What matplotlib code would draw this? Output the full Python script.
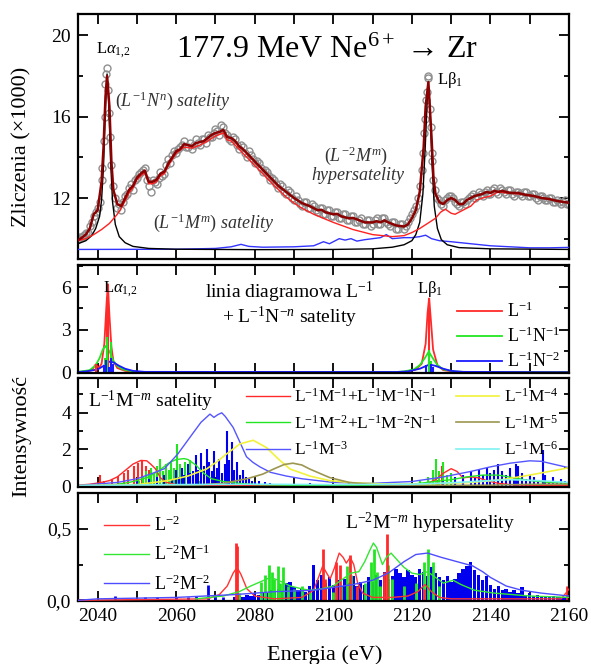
import numpy as np
import matplotlib
matplotlib.use('Agg')
import matplotlib.pyplot as plt
from matplotlib.ticker import MultipleLocator, FuncFormatter

plt.rcParams['font.family'] = ['Liberation Serif', 'DejaVu Serif']
plt.rcParams['mathtext.fontset'] = 'custom'
plt.rcParams['mathtext.rm'] = 'Liberation Serif'
plt.rcParams['mathtext.it'] = 'Liberation Serif:italic'
plt.rcParams['mathtext.bf'] = 'Liberation Serif:bold'

# ---------------- panel 1: measured spectrum (counts / 1000) ----------------
# integer energies 2035..2160
counts_int = [10.0, 10.1, 10.3, 10.6, 11.1, 11.5, 12.9, 17.6, 16.2, 12.6,
              11.5, 11.4, 12.1, 12.5, 12.4, 13.0, 13.3, 13.5, 12.6, 12.9,
              12.7, 13.3, 13.2, 13.9, 14.1, 14.2, 14.5, 14.8, 14.5, 14.4,
              14.9, 14.6, 14.9, 15.1, 15.0, 15.4, 15.1, 15.5, 15.1, 14.8,
              14.9, 14.4, 14.5, 14.0, 14.1, 13.7, 13.7, 13.3, 13.3, 12.9,
              12.9, 12.5, 12.6, 12.2, 12.3, 11.9, 11.9, 11.6, 11.8, 11.5,
              11.6, 11.3, 11.5, 11.2, 11.4, 11.1, 11.3, 11.0, 11.2, 10.9,
              11.1, 10.8, 11.0, 10.7, 10.9, 10.7, 11.0, 10.7, 11.0, 10.7,
              10.8, 10.5, 10.7, 10.5, 10.8, 11.2, 11.6, 12.6, 15.2, 17.9,
              14.2, 12.4, 11.9, 11.6, 12.0, 12.1, 11.8, 11.6, 11.8, 11.9,
              12.1, 12.0, 12.3, 12.1, 12.4, 12.2, 12.5, 12.2, 12.4, 12.2,
              12.4, 12.1, 12.3, 12.1, 12.3, 12.1, 12.2, 11.9, 12.1, 11.9,
              12.0, 11.8, 11.9, 11.7, 11.9, 11.7]
# half-integer energies 2035.5..2159.5
counts_half = [10.1, 10.2, 10.3, 10.8, 11.3, 11.8, 14.8, 18.4, 13.6, 12.0,
               11.7, 11.8, 12.2, 12.7, 12.9, 13.2, 13.4, 12.9, 12.3, 12.8,
               13.0, 13.1, 13.6, 13.7, 14.3, 14.4, 14.6, 14.5, 14.7, 14.6,
               14.7, 14.9, 14.7, 15.0, 15.2, 15.3, 15.6, 15.2, 14.9, 15.0,
               14.6, 14.6, 14.2, 14.3, 13.9, 13.8, 13.5, 13.4, 13.1, 13.0,
               12.7, 12.7, 12.3, 12.4, 12.0, 12.1, 11.7, 11.8, 11.5, 11.7,
               11.4, 11.5, 11.2, 11.4, 11.1, 11.3, 11.0, 11.2, 10.9, 11.1,
               10.8, 10.9, 10.7, 10.9, 10.6, 10.9, 10.7, 11.0, 10.8, 10.6,
               10.8, 10.5, 10.7, 10.6, 11.0, 11.4, 12.0, 13.4, 16.8, 16.4,
               12.9, 12.0, 11.7, 11.9, 12.1, 12.0, 11.7, 11.8, 11.7, 12.0,
               12.2, 12.1, 12.2, 12.3, 12.2, 12.4, 12.3, 12.5, 12.3, 12.4,
               12.2, 12.3, 12.2, 12.3, 12.1, 12.2, 12.0, 12.1, 12.0, 11.9,
               12.0, 11.8, 11.8, 11.8, 11.7]
peak_counts = [(2041.2, 13.5), (2041.8, 16.0), (2042.2, 18.1), (2042.7, 17.3),
               (2043.2, 15.0), (2122.8, 14.2), (2123.3, 15.9), (2123.8, 17.2),
               (2124.2, 18.0), (2124.8, 15.5), (2125.2, 13.8)]

fit_total = [(2035, 9.93), (2036, 10.05), (2037, 10.2), (2038, 10.5), (2039, 11.2), (2040, 11.4),
             (2041, 12.8), (2041.5, 14.5), (2042, 17.0), (2042.4, 18.0), (2043, 16.5), (2043.5, 13.8),
             (2044, 12.4), (2045, 11.7), (2046, 11.6), (2047, 12.0), (2048, 12.4), (2049, 12.6),
             (2050, 13.0), (2051, 13.2), (2052, 13.35), (2053, 12.8), (2054, 12.8), (2055, 12.9),
             (2056, 13.2), (2057, 13.3), (2058, 13.7), (2059, 14.0), (2060, 14.3), (2061, 14.4),
             (2062, 14.65), (2063, 14.6), (2064, 14.55), (2065, 14.7), (2066, 14.75), (2067, 14.8),
             (2068, 14.95), (2069, 15.1), (2070, 15.2), (2071, 15.25), (2072, 15.35), (2073, 15.0),
             (2074, 14.95), (2075, 14.8), (2076, 14.55), (2077, 14.4), (2078, 14.2), (2079, 14.0),
             (2080, 13.8), (2082, 13.4), (2084, 13.0), (2086, 12.6), (2088, 12.3), (2090, 12.0),
             (2092, 11.75), (2094, 11.6), (2096, 11.4), (2097, 11.42), (2098, 11.3), (2100, 11.2),
             (2101, 11.22), (2102, 11.1), (2104, 11.0), (2105, 11.02), (2106, 10.95), (2108, 10.8),
             (2110, 10.8), (2111, 10.86), (2112, 10.8), (2113, 10.9), (2114, 10.8), (2116, 10.65),
             (2118, 10.6), (2119, 10.7), (2120, 11.0), (2121, 11.4), (2122, 12.3), (2123, 14.5),
             (2123.5, 16.5), (2124.2, 17.7), (2125, 15.0), (2125.5, 13.0), (2126, 12.2), (2127, 11.8),
             (2128, 11.7), (2129, 11.9), (2130, 12.0), (2131, 11.9), (2132, 11.7), (2133, 11.7),
             (2134, 11.9), (2136, 12.1), (2138, 12.2), (2139, 12.3), (2140, 12.25), (2141, 12.35),
             (2142, 12.3), (2143, 12.35), (2145, 12.25), (2147, 12.25), (2149, 12.15), (2151, 12.1),
             (2153, 12.0), (2155, 11.95), (2157, 11.85), (2160, 11.77)]
fit_sat = [(2035, 9.9), (2037, 10.0), (2039, 10.2), (2041, 10.45), (2043, 10.75), (2045, 11.2),
           (2046, 11.5), (2047, 11.85), (2048, 12.25), (2049, 12.5), (2050, 12.9), (2051, 13.1),
           (2052, 13.25), (2053, 12.7), (2054, 12.7), (2055, 12.8), (2056, 13.1), (2057, 13.2),
           (2058, 13.6), (2059, 13.9), (2060, 14.2), (2062, 14.5), (2064, 14.45), (2066, 14.6),
           (2068, 14.8), (2070, 15.05), (2072, 15.2), (2073, 14.85), (2074, 14.8), (2076, 14.4),
           (2078, 14.0), (2080, 13.6), (2082, 13.2), (2085, 12.6), (2088, 12.05), (2090, 11.75),
           (2092, 11.5), (2095, 11.2), (2100, 10.8), (2105, 10.45), (2110, 10.2), (2115, 10.1),
           (2118, 10.15), (2120, 10.3), (2122, 10.5), (2124, 10.75), (2126, 11.0), (2127.3, 11.3),
           (2128.5, 11.45), (2130, 11.25), (2131, 11.2), (2133, 11.4), (2135, 11.6), (2136.5, 11.9),
           (2138, 12.0), (2140, 12.1), (2142, 12.3), (2144, 12.25), (2147, 12.2), (2150, 12.15),
           (2153, 12.0), (2156, 11.9), (2160, 11.75)]
fit_diag = [(2035, 9.75), (2037, 9.9), (2038.5, 10.15), (2039.5, 10.5), (2040.5, 11.1), (2041, 11.9),
            (2041.5, 13.6), (2042, 16.5), (2042.4, 18.1), (2042.8, 16.8), (2043.3, 13.8), (2043.8, 11.8),
            (2044.5, 10.7), (2045.5, 10.1), (2047, 9.8), (2049, 9.62), (2053, 9.52), (2060, 9.48),
            (2080, 9.46), (2100, 9.47), (2110, 9.5), (2115, 9.58), (2118, 9.7), (2120, 9.9),
            (2121, 10.2), (2122, 10.8), (2122.8, 12.2), (2123.4, 14.5), (2123.9, 16.8), (2124.2, 17.5),
            (2124.6, 16.5), (2125.1, 13.8), (2125.7, 11.6), (2126.5, 10.5), (2127.5, 9.95), (2129, 9.7),
            (2132, 9.56), (2140, 9.5), (2160, 9.47)]
fit_hyper = [(2035, 9.47), (2060, 9.48), (2070, 9.52), (2074, 9.6), (2076.5, 9.72), (2078.5, 9.62),
             (2082, 9.58), (2090, 9.6), (2095, 9.65), (2097.5, 9.85), (2099, 9.75), (2101.5, 10.0),
             (2103, 9.93), (2104.5, 10.0), (2106, 9.88), (2108, 9.95), (2110, 10.0), (2112, 10.05),
             (2113.5, 10.2), (2115, 10.0), (2118, 10.05), (2120, 10.05), (2122, 10.1), (2123.5, 10.17),
             (2125, 10.0), (2127, 9.9), (2130, 9.85), (2135, 9.75), (2140, 9.65), (2145, 9.6),
             (2150, 9.55), (2155, 9.55), (2160, 9.57)]

# ---------------- panel 2: diagram lines + L-1N-n ----------------
diag_red_curve = [(2035, 0.01), (2037, 0.05), (2038.5, 0.15), (2039.5, 0.55), (2040.3, 0.3), (2041, 0.6),
                  (2041.7, 2.0), (2042.2, 4.5), (2042.6, 6.2), (2043, 4.0), (2043.5, 1.8), (2044, 0.8),
                  (2045, 0.3), (2047, 0.1), (2050, 0.02), (2118, 0.02), (2121, 0.2), (2122.5, 0.6),
                  (2123.5, 2.0), (2124.0, 4.2), (2124.4, 5.2), (2124.8, 3.8), (2125.4, 1.6), (2126.5, 0.5),
                  (2128, 0.15), (2131, 0.03), (2160, 0.0)]
diag_green_curve = [(2035, 0.03), (2038, 0.15), (2039.5, 0.5), (2040.5, 1.0), (2041.3, 1.6), (2042, 1.85),
                    (2042.7, 1.6), (2043.3, 1.3), (2044, 0.8), (2045, 0.45), (2046.5, 0.2), (2049, 0.05),
                    (2052, 0.01), (2116, 0.02), (2118, 0.06), (2120.5, 0.2), (2122, 0.5), (2123.3, 1.0),
                    (2124.3, 1.45), (2125.3, 1.0), (2126.5, 0.5), (2128, 0.2), (2131, 0.05), (2135, 0.01),
                    (2160, 0.0)]
diag_blue_curve = [(2035, 0.02), (2037, 0.06), (2040, 0.2), (2041.5, 0.45), (2043, 0.75), (2044, 0.7),
                   (2045.5, 0.45), (2047, 0.25), (2049, 0.1), (2052, 0.03), (2116, 0.02), (2119, 0.06),
                   (2122, 0.25), (2124.5, 0.55), (2126, 0.45), (2128, 0.25), (2130, 0.1), (2133, 0.03),
                   (2160, 0.0)]
diag_red_sticks = [(2039.5, 0.6), (2042.3, 5.3), (2042.6, 6.2), (2124.4, 5.2)]
diag_green_sticks = [(2041.8, 1.0), (2042.5, 2.5), (2043.5, 2.1), (2124.3, 1.6), (2124.9, 0.8)]
diag_blue_sticks = [(2041.5, 0.5), (2042.1, 0.9), (2042.8, 0.4), (2043.3, 1.0), (2044, 0.6),
                    (2123.5, 0.5), (2124.8, 0.6), (2125.5, 0.4)]

# ---------------- panel 3: L-1M-m satellites ----------------
m1_curve = [(2035, 0.05), (2038, 0.1), (2041, 0.2), (2043, 0.3), (2045, 0.5), (2047, 0.85), (2049, 1.2),
            (2051, 1.4), (2052.5, 1.38), (2053.5, 1.2), (2054.7, 0.95), (2056, 0.45), (2057.5, 0.2),
            (2060, 0.08), (2065, 0.03), (2090, 0.02), (2110, 0.03), (2120, 0.06), (2124, 0.15),
            (2126, 0.35), (2128, 0.7), (2130, 0.95), (2131.5, 0.8), (2133, 0.45), (2135, 0.5),
            (2137, 0.45), (2139, 0.3), (2142, 0.15), (2146, 0.06), (2160, 0.02)]
m1_sticks = [(2040.6, 0.62), (2041.5, 0.3), (2043.7, 0.4), (2045.3, 0.55), (2046.6, 0.7), (2047.8, 0.9),
             (2049.2, 1.1), (2050.2, 1.25), (2051.3, 1.35), (2052.2, 1.1), (2053.2, 0.9), (2054.3, 0.4),
             (2111, 0.1), (2121, 0.15), (2125.5, 0.2), (2126.5, 0.35), (2127.6, 1.1), (2129, 0.3),
             (2131, 0.25), (2133, 0.35), (2136, 0.3)]
m2_curve = [(2040, 0.02), (2045, 0.1), (2048, 0.2), (2050, 0.3), (2053, 0.5), (2056, 0.9), (2058, 1.25),
            (2060, 1.45), (2062, 1.5), (2063, 1.45), (2065, 1.15), (2067, 0.7), (2069, 0.4), (2072, 0.25),
            (2076, 0.15), (2080, 0.08), (2090, 0.04), (2110, 0.04), (2120, 0.1), (2126, 0.25),
            (2130, 0.35), (2134, 0.5), (2138, 0.6), (2142, 0.6), (2146, 0.45), (2150, 0.3),
            (2155, 0.2), (2160, 0.15)]
m2_sticks = [(2050.5, 0.3), (2051.5, 0.5), (2052.3, 0.8), (2053, 0.6), (2053.7, 1.0), (2054.4, 0.7),
             (2055.2, 1.1), (2056, 1.5), (2056.7, 0.8), (2057.4, 1.2), (2058.1, 0.9), (2058.8, 1.3),
             (2059.5, 1.0), (2060.2, 2.3), (2060.9, 1.2), (2061.6, 0.9), (2062.3, 1.3), (2063, 0.8),
             (2063.6, 1.4), (2064.3, 0.6), (2065, 0.5), (2066, 0.3), (2095, 0.1), (2104, 0.15),
             (2122, 0.3), (2124, 0.5), (2125.3, 0.9), (2126.2, 1.5), (2127, 0.8), (2128, 1.3),
             (2129, 0.6), (2130, 0.7), (2131, 0.4), (2133, 0.3)]
m3_curve = [(2035, 0.03), (2045, 0.2), (2050, 0.4), (2054, 0.7), (2057, 0.95), (2060.4, 1.75),
            (2063.8, 2.75), (2066.3, 3.48), (2068.6, 3.93), (2069.6, 3.75), (2070.6, 3.9), (2071.6, 4.0),
            (2072.5, 3.8), (2074.5, 3.2), (2076, 2.5), (2077.9, 1.6), (2079.5, 1.3), (2081.3, 1.05),
            (2084, 0.75), (2088, 0.55), (2092, 0.4), (2100, 0.2), (2110, 0.15), (2120, 0.25),
            (2128, 0.5), (2135, 0.8), (2140, 1.05), (2145, 1.25), (2150, 1.38), (2153, 1.35),
            (2156, 1.2), (2160, 1.0)]
m3_sticks = [(2050, 0.3), (2053, 0.4), (2055, 0.5), (2057, 0.6), (2059, 0.4), (2060, 0.9),
             (2060.7, 0.5), (2061.5, 1.0), (2062, 0.6), (2063, 1.2), (2063.6, 0.7), (2064.3, 0.8),
             (2065, 1.7), (2065.6, 0.9), (2066.3, 1.8), (2067, 1.1), (2067.8, 2.0), (2068.4, 1.3),
             (2069, 0.8), (2069.6, 1.9), (2070.3, 1.0), (2071, 1.5), (2071.7, 0.7), (2072.5, 1.2),
             (2072.9, 3.0), (2073.5, 1.4), (2074.2, 2.4), (2074.8, 0.9), (2075.5, 1.3), (2076.3, 0.6),
             (2077, 0.9), (2077.8, 0.5), (2078.5, 0.4), (2079.3, 0.3), (2080, 0.25), (2081, 0.3),
             (2082.5, 0.2), (2084, 0.15), (2086, 0.1), (2094, 0.15), (2098, 0.1), (2101, 0.1),
             (2128, 0.3), (2131, 0.5), (2133, 0.6), (2135, 0.8), (2136, 0.5), (2137, 0.9),
             (2138, 0.6), (2139, 1.0), (2140, 0.7), (2141, 0.9), (2142, 1.2), (2143, 0.8),
             (2144, 0.6), (2145, 1.0), (2146, 0.5), (2146.5, 1.2), (2147, 1.1), (2148, 0.7),
             (2149, 0.4), (2150, 0.6), (2151, 0.5), (2152, 0.3), (2153.4, 1.95), (2154, 0.6),
             (2155, 0.3), (2156, 0.5), (2157, 0.3), (2158, 0.4), (2159, 0.3)]
m4_curve = [(2035, 0.02), (2050, 0.08), (2058, 0.3), (2063, 0.55), (2067.7, 0.93), (2070.5, 1.35),
            (2072.8, 1.75), (2076.2, 2.3), (2079.6, 2.5), (2083, 2.1), (2086.4, 1.4), (2089, 0.93),
            (2094, 0.55), (2099, 0.3), (2105, 0.18), (2115, 0.1), (2125, 0.12), (2135, 0.2),
            (2143, 0.35), (2150, 0.6), (2155, 0.8), (2160, 1.0)]
m5_curve = [(2035, 0.01), (2065, 0.05), (2072, 0.15), (2078, 0.4), (2082, 0.65), (2085, 0.95),
            (2087.5, 1.18), (2089.7, 1.25), (2092, 1.15), (2094, 0.93), (2096.5, 0.7), (2099, 0.47),
            (2104, 0.2), (2110, 0.08), (2120, 0.03), (2140, 0.05), (2150, 0.1), (2160, 0.1)]
m6_curve = [(2035, 0.03), (2060, 0.08), (2080, 0.1), (2100, 0.08), (2120, 0.1), (2130, 0.18),
            (2138, 0.28), (2145, 0.35), (2152, 0.3), (2160, 0.2)]

# ---------------- panel 4: L-2M-m hypersatellites ----------------
h0_curve = [(2035, 0.0), (2068, 0.01), (2071, 0.04), (2073, 0.1), (2074.5, 0.19), (2075.5, 0.23),
            (2076.5, 0.18), (2078, 0.08), (2080, 0.03), (2085, 0.01), (2092, 0.02), (2095, 0.07),
            (2096.5, 0.18), (2097.3, 0.24), (2098.3, 0.19), (2099.2, 0.15), (2100.2, 0.22),
            (2101.5, 0.33), (2102.5, 0.3), (2103.3, 0.26), (2104.3, 0.3), (2105.2, 0.25),
            (2106.2, 0.12), (2107.5, 0.05), (2110, 0.02), (2115, 0.02), (2119, 0.03), (2121.5, 0.06),
            (2123.3, 0.11), (2125, 0.06), (2127, 0.02), (2130, 0.01), (2158, 0.01), (2159.5, 0.06),
            (2160, 0.08)]
h0_sticks = [(2075.3, 0.4), (2075.6, 0.38), (2097.3, 0.36), (2098, 0.15), (2100.8, 0.27), (2101.8, 0.25),
             (2104.2, 0.32), (2106, 0.1), (2112.8, 0.2), (2113.6, 0.46), (2123.2, 0.08), (2159.5, 0.1)]
h1_curve = [(2065, 0.01), (2072, 0.03), (2076, 0.06), (2079, 0.1), (2081.5, 0.13), (2084, 0.16),
            (2086, 0.14), (2089, 0.1), (2092, 0.08), (2094, 0.07), (2097, 0.08), (2100, 0.1),
            (2102, 0.14), (2104.5, 0.19), (2106.5, 0.2), (2108, 0.27), (2109.3, 0.35), (2110.2, 0.4),
            (2111, 0.37), (2112.5, 0.25), (2113.5, 0.3), (2114.7, 0.33), (2116, 0.29), (2118, 0.23),
            (2120, 0.19), (2122, 0.18), (2124, 0.2), (2126, 0.16), (2128, 0.12), (2130.5, 0.14),
            (2132.5, 0.11), (2136, 0.07), (2141, 0.05), (2150, 0.03), (2160, 0.02)]
h1_sticks = [(2076, 0.05), (2081.5, 0.13), (2082.5, 0.18), (2083.5, 0.25), (2084.3, 0.2), (2085, 0.15),
             (2085.8, 0.24), (2086.5, 0.12), (2087.3, 0.23), (2088.5, 0.1), (2090, 0.08), (2092, 0.1),
             (2094, 0.06), (2100, 0.06), (2102, 0.1), (2103.4, 0.24), (2104.5, 0.18), (2106, 0.08),
             (2108, 0.12), (2109.5, 0.27), (2110.3, 0.36), (2111, 0.2), (2112, 0.1), (2114, 0.25),
             (2115, 0.15), (2118, 0.1), (2121, 0.12), (2123, 0.27), (2124.1, 0.36), (2125.3, 0.27),
             (2127, 0.1)]
h2_curve = [(2035, 0.0), (2040, 0.01), (2060, 0.02), (2075, 0.04), (2085, 0.06), (2095, 0.07),
            (2105, 0.11), (2110, 0.14), (2114, 0.19), (2118, 0.27), (2121, 0.32), (2124, 0.33),
            (2127.5, 0.3), (2131.5, 0.27), (2135.5, 0.24), (2138, 0.2), (2140, 0.16), (2144, 0.1),
            (2148, 0.07), (2153, 0.05), (2160, 0.03)]
h2_small = [(2044.5, 0.03), (2052, 0.02), (2055, 0.02), (2060, 0.02), (2063, 0.02), (2065, 0.03),
            (2068, 0.11), (2070, 0.03), (2072, 0.02)]
# dense L-2M-2 lines, 2075..2160 in 1 eV bins
h2_bins = [0.02, 0.03, 0.02, 0.04, 0.03, 0.05, 0.04, 0.06, 0.05, 0.07,
           0.06, 0.08, 0.06, 0.12, 0.13, 0.09, 0.07, 0.08, 0.06, 0.10,
           0.25, 0.14, 0.18, 0.12, 0.16, 0.11, 0.14, 0.10, 0.15, 0.12,
           0.17, 0.10, 0.13, 0.11, 0.16, 0.13, 0.18, 0.14, 0.20, 0.15,
           0.17, 0.22, 0.19, 0.16, 0.21, 0.18, 0.16, 0.22, 0.20, 0.17,
           0.23, 0.19, 0.16, 0.14, 0.17, 0.13, 0.15, 0.19, 0.22, 0.24,
           0.27, 0.21, 0.18, 0.14, 0.17, 0.11, 0.08, 0.10, 0.07, 0.08,
           0.06, 0.07, 0.05, 0.09, 0.04, 0.05, 0.03, 0.04, 0.03, 0.03,
           0.02, 0.03, 0.02, 0.02, 0.02, 0.02]

RED = '#ff2a2a'
GREEN = '#22e622'
BLUE = '#1a1aff'
DARKRED = '#8b0000'
SERIF = 'Liberation Serif'


def xy(pts):
    e, v = zip(*pts)
    return np.array(e), np.array(v)


def sticks(ax, pts, color, lw=1.5):
    e, v = xy(pts)
    ax.vlines(e, 0, v, colors=color, lw=lw, zorder=2)


def style(ax, ymaj, ymin):
    for s in ax.spines.values():
        s.set_linewidth(1.6)
    ax.set_xlim(2035, 2160)
    ax.xaxis.set_major_locator(MultipleLocator(20))
    ax.xaxis.set_minor_locator(MultipleLocator(10))
    ax.yaxis.set_major_locator(MultipleLocator(ymaj))
    ax.yaxis.set_minor_locator(MultipleLocator(ymin))
    ax.tick_params(which='both', direction='in', top=True, right=True, width=1.3,
                   labelsize=14, pad=5, labelfontfamily=SERIF)
    ax.tick_params(which='major', length=7)
    ax.tick_params(which='minor', length=3.5)
    ax.tick_params(axis='x', which='minor', length=7)
    ax.tick_params(axis='x', labelbottom=False)


def legend(ax, handles, anchor, size, spacing, **kw):
    ax.legend(handles=handles, loc='upper left', bbox_to_anchor=anchor, frameon=False,
              fontsize=size, handlelength=2.5, handletextpad=0.25, labelspacing=spacing,
              borderpad=0, borderaxespad=0, **kw)


fig = plt.figure(figsize=(5.91, 6.64), dpi=100)
L, W = 78 / 591, 491 / 591
ax1 = fig.add_axes([L, 405 / 664, W, 245 / 664])
ax2 = fig.add_axes([L, 291 / 664, W, 108 / 664])
ax3 = fig.add_axes([L, 177 / 664, W, 109 / 664])
ax4 = fig.add_axes([L, 63 / 664, W, 108 / 664])

# ---- panel 1
e_int = 2035 + np.arange(len(counts_int))
e_half = 2035.5 + np.arange(len(counts_half))
pe, pv = xy(peak_counts)
for e, v in [(e_int, counts_int), (e_half, counts_half), (pe, pv)]:
    ax1.plot(e, v, 'o', ms=5, mfc='none', mec='#8f8f8f', mew=1.0, zorder=2)
ax1.plot(*xy(fit_hyper), color='#3333ff', lw=1.0, zorder=3)
ax1.plot(*xy(fit_diag), color='black', lw=1.0, zorder=3)
ax1.plot(*xy(fit_sat), color='#ff2020', lw=1.0, zorder=3)
ax1.plot(*xy(fit_total), color=DARKRED, lw=1.8, zorder=4)
style(ax1, 4, 2)
ax1.set_ylim(9, 21.05)

ax1.text(2098.5, 19.26, '177.9 MeV Ne$^{6+}$ \u2192 Zr', fontsize=23, ha='center', va='center')
ax1.text(2039.7, 19.26, r'L$\alpha_{1{,}2}$', fontsize=12, ha='left', va='center')
ax1.text(2126.4, 17.78, r'L$\mathrm{\beta}_{1}$', fontsize=12, ha='left', va='center')
ax1.text(2044.3, 16.79, r'$(L^{-1}N^{n})$ satelity', fontsize=13, style='italic',
         ha='left', va='center', color='#333333')
ax1.text(2054.0, 10.77, r'$(L^{-1}M^{m})$ satelity', fontsize=13, style='italic',
         ha='left', va='center', color='#333333')
ax1.text(2105.7, 14.07, r'$(L^{-2}M^{m})$', fontsize=13, style='italic',
         ha='center', va='center', color='#333333')
ax1.text(2106.2, 13.09, 'hypersatelity', fontsize=13, style='italic',
         ha='center', va='center', color='#333333')

# ---- panel 2
l21, = ax2.plot(*xy(diag_red_curve), color=RED, lw=1.3, label=r'L$^{-1}$')
l22, = ax2.plot(*xy(diag_green_curve), color=GREEN, lw=1.3, label=r'L$^{-1}$N$^{-1}$')
l23, = ax2.plot(*xy(diag_blue_curve), color=BLUE, lw=1.3, label=r'L$^{-1}$N$^{-2}$')
sticks(ax2, diag_red_sticks, RED)
sticks(ax2, diag_green_sticks, GREEN)
sticks(ax2, diag_blue_sticks, BLUE)
style(ax2, 3, 1.5)
ax2.set_ylim(-0.05, 7.55)
ax2.text(2041.3, 5.86, r'L$\alpha_{1{,}2}$', fontsize=12, ha='left', va='center')
ax2.text(2121.3, 5.86, r'L$\mathrm{\beta}_{1}$', fontsize=12, ha='left', va='center')
ax2.text(2088.9, 5.65, r'linia diagramowa L$^{-1}$', fontsize=14, ha='center', va='center')
ax2.text(2088.9, 3.88, r'+ L$^{-1}$N$^{-n}$ satelity', fontsize=14, ha='center', va='center')
legend(ax2, [l21, l22, l23], (0.772, 0.66), 13, 0.32)

# ---- panel 3
sticks(ax3, m1_sticks, RED)
sticks(ax3, m2_sticks, GREEN)
sticks(ax3, m3_sticks, '#0000ee')
c1, = ax3.plot(*xy(m1_curve), color=RED, lw=1.0, label=r'L$^{-1}$M$^{-1}$+L$^{-1}$M$^{-1}$N$^{-1}$')
c2, = ax3.plot(*xy(m2_curve), color=GREEN, lw=1.0, label=r'L$^{-1}$M$^{-2}$+L$^{-1}$M$^{-2}$N$^{-1}$')
c3, = ax3.plot(*xy(m3_curve), color='#5555ff', lw=1.0, label=r'L$^{-1}$M$^{-3}$')
c4, = ax3.plot(*xy(m4_curve), color='#f2f23a', lw=1.2, label=r'L$^{-1}$M$^{-4}$')
c5, = ax3.plot(*xy(m5_curve), color='#9c9650', lw=1.2, label=r'L$^{-1}$M$^{-5}$')
c6, = ax3.plot(*xy(m6_curve), color='#7ff2f2', lw=1.2, label=r'L$^{-1}$M$^{-6}$')
style(ax3, 2, 1)
ax3.set_ylim(-0.05, 5.9)
ax3.text(2037.6, 4.64, r'L$^{-1}$M$^{-m}$ satelity', fontsize=14, ha='left', va='center')
legend(ax3, [c1, c2, c3, c4, c5, c6], (0.343, 0.91), 12.5, 0.5, ncol=2, columnspacing=1.1)

# ---- panel 4
e_bins = 2075 + np.arange(len(h2_bins))
ax4.bar(e_bins, h2_bins, width=0.85, color='#0000ee', lw=0, zorder=2)
sticks(ax4, h2_small, '#0000ee', lw=2)
sticks(ax4, h1_sticks, GREEN, lw=2)
sticks(ax4, h0_sticks, RED, lw=2)
d1, = ax4.plot(*xy(h0_curve), color='#ff3333', lw=1.0, label=r'L$^{-2}$', zorder=3)
d2, = ax4.plot(*xy(h1_curve), color='#33e633', lw=1.0, label=r'L$^{-2}$M$^{-1}$', zorder=3)
d3, = ax4.plot(*xy(h2_curve), color='#4d4dff', lw=1.0, label=r'L$^{-2}$M$^{-2}$', zorder=3)
style(ax4, 0.5, 0.25)
ax4.set_ylim(-0.005, 0.75)
ax4.yaxis.set_major_formatter(FuncFormatter(lambda v, p: ('%.1f' % v).replace('.', ',')))
ax4.tick_params(axis='x', labelbottom=True)
ax4.text(2124.6, 0.54, r'L$^{-2}$M$^{-m}$ hypersatelity', fontsize=14, ha='center', va='center')
legend(ax4, [d1, d2, d3], (0.053, 0.79), 13, 0.55)

fig.text(22 / 591, 1 - 147 / 664, 'Zliczenia (\u00d71000)', rotation=90, fontsize=16,
         ha='center', va='center')
fig.text(22 / 591, 1 - 436 / 664, 'Intensywno\u015b\u0107', rotation=90, fontsize=16,
         ha='center', va='center')
fig.text(325 / 591, 1 - 655 / 664, 'Energia (eV)', fontsize=16, ha='center', va='center')

fig.savefig('out.png', dpi=100)
